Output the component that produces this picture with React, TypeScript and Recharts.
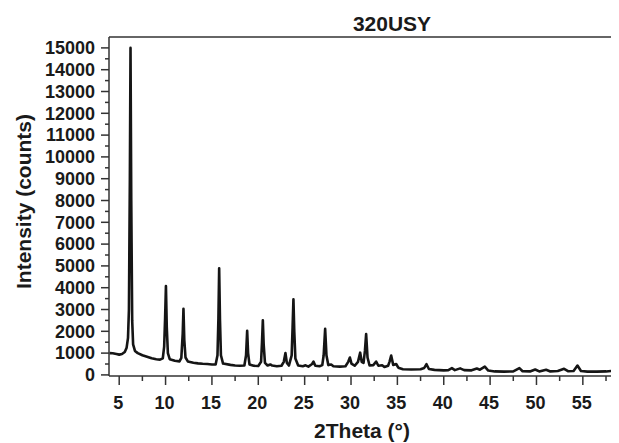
import { LineChart, Line, XAxis, YAxis, Label, ReferenceLine } from "recharts";

// 2Theta positions (deg) and intensities (counts)
const twoTheta = [
  3.95, 4.3, 4.7, 5.0, 5.3, 5.6, 5.8, 5.95, 6.05, 6.15, 6.22, 6.3, 6.4, 6.5, 6.7, 7.0, 7.5, 8.0, 8.5, 9.0,
  9.4, 9.7, 9.85, 9.95, 10.04, 10.13, 10.25, 10.45, 11.0, 11.5, 11.7, 11.85, 11.93, 12.02, 12.15, 12.4, 13.0, 13.5, 14.0, 14.5,
  15.0, 15.4, 15.6, 15.7, 15.78, 15.87, 15.97, 16.2, 17.0, 17.5, 18.0, 18.5, 18.68, 18.8, 18.9, 19.05, 19.5, 20.0, 20.3, 20.4,
  20.49, 20.58, 20.72, 21.0, 21.3, 21.5, 22.0, 22.5, 22.75, 22.93, 23.08, 23.3, 23.6, 23.7, 23.79, 23.88, 24.0, 24.3, 24.8, 25.1,
  25.4, 25.8, 25.95, 26.15, 26.6, 26.9, 27.05, 27.21, 27.35, 27.55, 27.86, 28.1, 28.8, 29.4, 29.7, 29.88, 30.05, 30.4, 30.75, 30.99,
  31.15, 31.35, 31.5, 31.63, 31.78, 32.0, 32.4, 32.71, 32.95, 33.36, 33.6, 34.0, 34.15, 34.33, 34.55, 34.87, 35.1, 35.6, 36.5, 37.5,
  37.9, 38.14, 38.4, 39.0, 40.0, 40.5, 40.88, 41.2, 41.77, 42.2, 43.0, 43.57, 43.9, 44.43, 44.8, 45.5, 46.5, 47.5, 48.16, 48.5,
  49.3, 49.86, 50.3, 51.04, 51.5, 52.3, 52.98, 53.4, 54.0, 54.42, 54.8, 55.5, 56.5, 57.5, 58.3, 58.8,
];
const counts = [
  1000, 990, 960, 930, 960, 1050, 1250, 1700, 3000, 9000, 15000, 8000, 2500, 1400, 1100, 1000, 900, 830, 760, 720,
  700, 760, 1300, 2600, 4080, 2200, 1000, 720, 650, 620, 780, 1900, 3030, 1600, 800, 620, 560, 530, 510, 500,
  480, 480, 900, 2600, 4890, 2500, 900, 520, 460, 430, 420, 430, 900, 2020, 1000, 480, 420, 410, 600, 1500,
  2510, 1400, 550, 430, 480, 430, 400, 420, 600, 1000, 550, 430, 900, 2200, 3470, 2000, 750, 430, 400, 440,
  380, 500, 610, 420, 400, 450, 900, 2110, 900, 450, 480, 400, 380, 400, 600, 800, 520, 420, 600, 1020,
  600, 550, 1100, 1870, 800, 430, 450, 610, 420, 440, 360, 420, 600, 890, 460, 500, 330, 260, 250, 260,
  320, 490, 270, 230, 210, 220, 310, 220, 300, 220, 210, 290, 240, 380, 200, 160, 150, 160, 310, 170,
  160, 250, 160, 240, 160, 180, 280, 170, 180, 430, 180, 150, 150, 160, 190, 310,
];

const xTicks = [5, 7.5, 10, 12.5, 15, 17.5, 20, 22.5, 25, 27.5, 30, 32.5, 35, 37.5, 40, 42.5, 45, 47.5, 50, 52.5, 55, 57.5];
const yTicks = [
  0, 500, 1000, 1500, 2000, 2500, 3000, 3500, 4000, 4500, 5000, 5500, 6000, 6500, 7000, 7500,
  8000, 8500, 9000, 9500, 10000, 10500, 11000, 11500, 12000, 12500, 13000, 13500, 14000, 14500, 15000,
];

const data = twoTheta.map((x, i) => ({ x, y: counts[i] }));

const AXIS = "#333";
const FONT = "'Liberation Sans', Arial, Helvetica, sans-serif";
const X_TS = 9;
const X_TM = 11;
const Y_TS = 8;
const Y_TM = 6;
const Y_MAX = 15500;

const XTick = (props: any) => {
  const { x, y, payload } = props;
  const v = payload.value;
  const major = v % 5 === 0;
  const ay = y - X_TS - X_TM;
  return (
    <g>
      <line x1={x} x2={x} y1={ay} y2={ay + (major ? 9 : 5)} stroke={AXIS} strokeWidth={1.5} />
      {major && (
        <text x={x - 1} y={y} dy="0.71em" textAnchor="middle" fontFamily={FONT} fontWeight="bold" fontSize={18} fill="#1a1a1a">
          {v}
        </text>
      )}
    </g>
  );
};

const YTick = (props: any) => {
  const { x, y, payload } = props;
  const v = payload.value;
  const major = v % 1000 === 0;
  const ax = x + Y_TS + Y_TM;
  return (
    <g>
      <line x1={ax} x2={ax - (major ? 8 : 4)} y1={y} y2={y} stroke={AXIS} strokeWidth={1.5} />
      {major && (
        <text x={x} y={y} dy="0.355em" textAnchor="end" fontFamily={FONT} fontWeight="bold" fontSize={18} fill="#1a1a1a">
          {v}
        </text>
      )}
    </g>
  );
};

export default function App() {
  return (
    <div style={{ position: "relative", width: 611, height: 435 }}>
      <div
        style={{
          position: "absolute",
          left: 284,
          width: 200,
          top: 5,
          textAlign: "center",
          fontFamily: FONT,
          fontWeight: "bold",
          fontSize: 21,
          lineHeight: "21px",
          color: "#1a1a1a",
        }}
      >
        320USY
      </div>
      <LineChart width={611} height={435} data={data} margin={{ top: 29, right: 0, bottom: 0, left: 0 }}>
        <XAxis
          dataKey="x"
          type="number"
          domain={[3.9, 58.9]}
          ticks={xTicks}
          interval={0}
          height={67}
          tickSize={X_TS}
          tickMargin={X_TM}
          tickLine={false}
          tick={<XTick />}
          axisLine={{ stroke: AXIS, strokeWidth: 1.5 }}
          allowDataOverflow
        >
          <Label
            content={({ viewBox }: any) => (
              <text
                x={viewBox.x + viewBox.width / 2 - 2}
                y={viewBox.y + viewBox.height - 5}
                textAnchor="middle"
                fontFamily={FONT}
                fontWeight="bold"
                fontSize={21}
                fill="#1a1a1a"
              >
                2Theta (°)
              </text>
            )}
          />
        </XAxis>
        <YAxis
          type="number"
          domain={[-50, Y_MAX]}
          ticks={yTicks}
          interval={0}
          width={101}
          tickSize={Y_TS}
          tickMargin={Y_TM}
          tickLine={false}
          tick={<YTick />}
          axisLine={{ stroke: AXIS, strokeWidth: 1.5 }}
          allowDataOverflow
        >
          <Label
            content={({ viewBox }: any) => {
              const cx = 15;
              const cy = viewBox.y + viewBox.height / 2 - 5;
              return (
                <text
                  x={cx}
                  y={cy}
                  transform={`rotate(-90 ${cx} ${cy})`}
                  textAnchor="middle"
                  dominantBaseline="central"
                  fontFamily={FONT}
                  fontWeight="bold"
                  fontSize={21}
                  fill="#1a1a1a"
                >
                  Intensity (counts)
                </text>
              );
            }}
          />
        </YAxis>
        <ReferenceLine y={Y_MAX} stroke={AXIS} strokeWidth={1.5} />
        <Line
          type="linear"
          dataKey="y"
          stroke="#151515"
          strokeWidth={2.6}
          dot={false}
          isAnimationActive={false}
          strokeLinejoin="round"
        />
      </LineChart>
    </div>
  );
}
